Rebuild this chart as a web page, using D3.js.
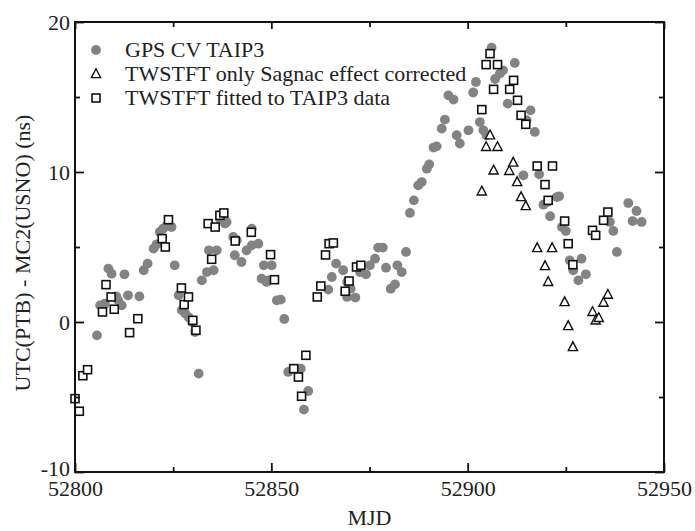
<!DOCTYPE html>
<html><head><meta charset="utf-8">
<script src="https://cdn.jsdelivr.net/npm/d3@7"></script>
<style>
html,body{margin:0;padding:0;background:#fff;}
svg{display:block;}
text{font-family:"Liberation Serif","Times New Roman",serif;fill:#222;}
</style></head>
<body>
<svg id="chart" width="695" height="531"></svg>
<script>
// ---- data ----
const xTicks = [52800, 52850, 52900, 52950];
const xMinor = [52825, 52875, 52925];
const yTicks = [-10, 0, 10, 20];
const yMinor = [-5, 5, 15];
const seriesNames = ["GPS CV TAIP3", "TWSTFT only Sagnac effect corrected", "TWSTFT fitted to TAIP3 data"];

const gpsMjd = [52805.6,52806.4,52807.6,52808.5,52809.3,52810.5,52811.0,52811.9,52812.6,52813.5,52816.4,52817.5,52818.5,52820.0,52820.8,52821.6,52822.4,52823.3,52824.6,52825.4,52826.4,52827.2,52828.1,52829.0,52829.8,52830.6,52831.5,52832.3,52833.6,52834.1,52835.3,52836.1,52836.9,52837.6,52838.2,52838.6,52840.3,52841.2,52840.7,52842.4,52843.7,52845.0,52845.0,52846.7,52847.5,52848.1,52848.8,52849.2,52850.1,52851.4,52852.4,52853.3,52854.3,52855.6,52857.5,52859.4,52858.3,52864.5,52865.4,52866.5,52868.3,52869.3,52870.2,52869.3,52871.4,52872.6,52874.1,52875.1,52876.4,52877.2,52878.4,52879.2,52880.4,52881.5,52882.1,52883.2,52884.3,52885.3,52886.3,52887.4,52888.3,52889.6,52890.2,52891.3,52892.1,52893.4,52894.2,52895.1,52896.4,52897.2,52898.0,52900.2,52901.4,52902.1,52903.1,52904.0,52904.8,52906.1,52907.0,52908.2,52909.0,52910.2,52912.0,52914.2,52915.0,52916.0,52917.1,52918.2,52919.3,52920.3,52921.0,52922.7,52923.3,52924.0,52925.0,52926.0,52926.9,52928.2,52929.0,52930.1,52936.2,52937.1,52938.0,52940.9,52942.0,52943.0,52944.3];
const gpsVal = [-0.89,1.11,1.22,3.56,3.22,1.7,1.44,1.11,3.18,1.78,1.71,3.45,3.89,4.89,5.18,6.0,6.22,6.4,6.33,3.78,1.78,0.78,0.56,0.3,0.0,-0.67,-3.44,2.78,3.33,4.78,3.45,4.78,6.9,7.0,6.56,6.67,5.67,5.45,4.45,4.0,4.78,5.11,6.22,5.22,2.89,3.78,2.67,2.78,3.78,1.44,1.49,0.2,-3.33,-3.11,-3.11,-4.6,-5.84,2.16,3.0,3.89,3.45,2.67,2.22,1.67,1.63,3.33,3.18,3.78,4.22,4.96,4.96,3.62,2.22,2.51,3.78,3.33,4.67,7.27,8.11,9.11,9.33,10.22,10.51,11.63,11.71,12.89,13.49,15.11,14.83,12.45,11.9,12.78,15.3,16.0,13.33,12.78,12.45,18.29,16.2,16.56,16.78,14.56,17.27,9.78,13.45,14.11,12.67,9.85,7.82,8.0,7.05,8.33,8.38,6.33,6.07,4.11,3.45,2.78,4.22,3.18,6.67,6.07,4.67,7.93,6.73,7.4,6.67];

const sagMjd = [52903.6,52904.7,52905.7,52906.6,52907.6,52910.6,52911.6,52912.6,52913.6,52914.8,52917.7,52919.7,52920.5,52921.5,52924.7,52925.6,52926.8,52931.8,52932.6,52933.4,52934.6,52935.7];
const sagVal = [8.71,11.67,12.45,10.11,11.67,10.07,10.63,9.33,8.33,7.73,4.93,3.73,2.67,4.93,1.33,-0.27,-1.67,0.67,0.11,0.27,1.29,1.82];

const fitMjd = [52800.0,52801.1,52802.0,52803.2,52807.0,52807.9,52809.2,52810.0,52813.9,52816.0,52822.2,52823.0,52823.8,52827.1,52827.8,52828.9,52830.0,52830.8,52833.9,52834.8,52835.7,52836.9,52837.9,52840.8,52844.9,52849.8,52850.8,52855.7,52856.9,52857.7,52858.8,52861.7,52862.6,52863.8,52864.7,52865.8,52868.8,52869.8,52871.7,52872.8,52903.6,52904.7,52905.7,52906.6,52907.6,52910.7,52911.7,52912.7,52913.6,52914.8,52917.7,52919.7,52920.5,52921.6,52924.7,52925.6,52926.8,52931.8,52932.6,52934.6,52935.7];
const fitVal = [-5.11,-5.95,-3.58,-3.18,0.67,2.49,1.67,0.85,-0.71,0.22,5.56,5.0,6.82,2.27,1.16,1.67,0.11,-0.55,6.56,4.18,6.33,7.11,7.27,5.4,5.98,4.49,2.82,-3.11,-3.67,-4.95,-2.22,1.67,2.4,4.47,5.22,5.27,2.05,2.73,3.67,3.78,14.16,17.16,17.89,15.51,17.16,15.51,16.11,14.78,13.78,13.18,10.4,9.16,8.11,10.4,6.73,5.22,3.82,6.11,5.78,6.78,7.33];

// ---- drawing ----
const svg = d3.select("#chart");
const L = 75, R = 664, T = 22, B = 472;
const x = d3.scaleLinear().domain([52800, 52950]).range([L, R]);
const y = d3.scaleLinear().domain([-10, 20]).range([B, T]);
const FS = 22;

// circles
const gps = gpsMjd.map((m, i) => ({m, v: gpsVal[i]}));
svg.append("g").selectAll("circle").data(gps).join("circle")
  .attr("cx", d => x(d.m)).attr("cy", d => y(d.v)).attr("r", 4.9)
  .attr("fill", "#838383");

const triPath = "M0,-5.2L4.6,3.6L-4.6,3.6Z";
const sag = sagMjd.map((m, i) => ({m, v: sagVal[i]}));
svg.append("g").selectAll("path").data(sag).join("path")
  .attr("d", triPath)
  .attr("transform", d => `translate(${x(d.m)},${y(d.v)})`)
  .attr("fill", "#fff").attr("stroke", "#111").attr("stroke-width", 1.4);

const fit = fitMjd.map((m, i) => ({m, v: fitVal[i]}));
svg.append("g").selectAll("rect").data(fit).join("rect")
  .attr("x", d => x(d.m) - 4).attr("y", d => y(d.v) - 4)
  .attr("width", 8).attr("height", 8)
  .attr("fill", "#fff").attr("stroke", "#111").attr("stroke-width", 1.6);

// axes
const fmt = d => String(d);
function styleAxis(g) {
  g.select(".domain").remove();
  g.selectAll(".tick line").attr("stroke", "#111").attr("stroke-width", 1.8);
  g.selectAll("text").style("font-size", FS + "px").attr("fill", "#222")
    .style("font-family", '"Liberation Serif","Times New Roman",serif');
}
svg.append("g").attr("transform", `translate(0,${B})`)
  .call(d3.axisBottom(x).tickValues(xTicks).tickSize(-9).tickPadding(8.5).tickFormat(fmt))
  .call(styleAxis);
svg.append("g").attr("transform", `translate(0,${B})`)
  .call(d3.axisBottom(x).tickValues(xMinor).tickSize(-5).tickFormat(""))
  .call(styleAxis);
svg.append("g").attr("transform", `translate(0,${T})`)
  .call(d3.axisTop(x).tickValues(xTicks).tickSize(-7).tickFormat(""))
  .call(styleAxis);
svg.append("g").attr("transform", `translate(0,${T})`)
  .call(d3.axisTop(x).tickValues(xMinor).tickSize(-5).tickFormat(""))
  .call(styleAxis);
const yAx = svg.append("g").attr("transform", `translate(${L},0)`)
  .call(d3.axisLeft(y).tickValues(yTicks).tickSize(-9).tickPadding(5).tickFormat(fmt))
  .call(styleAxis);
// bottom-most label sits a little higher, as in the original
yAx.selectAll(".tick text").filter(d => d === -10).attr("dy", "0.16em");
svg.append("g").attr("transform", `translate(${L},0)`)
  .call(d3.axisLeft(y).tickValues(yMinor).tickSize(-5).tickFormat(""))
  .call(styleAxis);
svg.append("g").attr("transform", `translate(${R},0)`)
  .call(d3.axisRight(y).tickValues(yTicks).tickSize(-9).tickFormat(""))
  .call(styleAxis);
svg.append("g").attr("transform", `translate(${R},0)`)
  .call(d3.axisRight(y).tickValues(yMinor).tickSize(-5).tickFormat(""))
  .call(styleAxis);

// frame
svg.append("rect").attr("x", L).attr("y", T).attr("width", R - L).attr("height", B - T)
  .attr("fill", "none").attr("stroke", "#111").attr("stroke-width", 2);

// axis titles
svg.append("text").attr("x", (L + R) / 2).attr("y", 525).attr("text-anchor", "middle")
  .style("font-size", FS + "px").text("MJD");
svg.append("text").attr("transform", `translate(30,253) rotate(-90)`).attr("text-anchor", "middle")
  .style("font-size", FS + "px").text("UTC(PTB) - MC2(USNO) (ns)");

// legend
const lg = svg.append("g");
const rows = [50, 74, 98];
const lx = 96;
lg.append("circle").attr("cx", lx).attr("cy", rows[0]).attr("r", 4.9).attr("fill", "#838383");
lg.append("path").attr("d", triPath).attr("transform", `translate(${lx},${rows[1]})`)
  .attr("fill", "#fff").attr("stroke", "#111").attr("stroke-width", 1.4);
lg.append("rect").attr("x", lx - 4).attr("y", rows[2] - 4).attr("width", 8).attr("height", 8)
  .attr("fill", "#fff").attr("stroke", "#111").attr("stroke-width", 1.6);
seriesNames.forEach((n, i) => {
  lg.append("text").attr("x", 125).attr("y", rows[i]).attr("dy", "0.34em")
    .style("font-size", FS + "px").text(n);
});
</script>
</body></html>
